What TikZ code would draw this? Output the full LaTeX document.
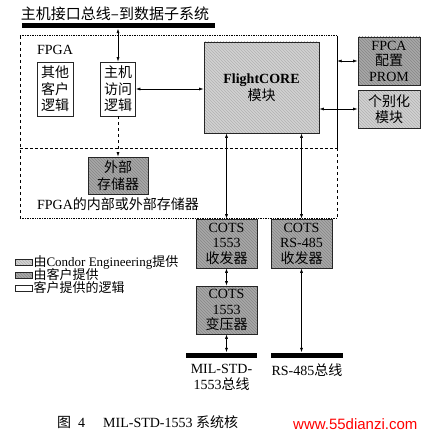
\documentclass[tikz,border=0pt]{standalone}
\usepackage{fontspec}
\setmainfont{Liberation Serif}
\newfontfamily\zhfont{Noto Sans CJK SC}
\newfontfamily\wmfont{Liberation Sans}
\newcommand{\zh}[1]{{\zhfont #1}}
\usetikzlibrary{arrows.meta,positioning,patterns}
\tikzset{
  box/.style={draw=black!85,line width=0.7pt,align=center,inner sep=1pt,font=\fontsize{14}{16.5}\selectfont},
  condor/.style={box,preaction={fill=gray!35},pattern=north west lines,pattern color=gray!60},
  client/.style={box,preaction={fill=gray!68},pattern=north west lines,pattern color=gray!95},
  link/.style={<->,line width=0.6pt},
  busbar/.style={fill=black,draw=none,minimum height=5pt,inner sep=0pt},
  label/.style={align=center,inner sep=0pt,font=\fontsize{14}{16}\selectfont},
  legend/.style={anchor=west,inner sep=0pt,font=\fontsize{13}{14}\selectfont},
  >={Latex[length=4.5pt,width=3pt]}
}

\begin{document}
\begin{tikzpicture}[x=1pt,y=-1pt]
\useasboundingbox (0,0) rectangle (427,436);
% host bus
\node (hosttitle) [label,font=\fontsize{15}{16}\selectfont] at (115,14) {\zh{主机接口总线–到数据子系统}};
\node (hostbus) [busbar,minimum width=193pt] at (118.5,26) {};
%
% FPGA box and the memory region below it
\node (fpga) [minimum width=317pt,minimum height=112pt,inner sep=0pt] at (178.5,92) {};
\node (memframe) [minimum width=317pt,minimum height=182pt,inner sep=0pt] at (178.5,127) {};
\draw[densely dotted,line width=0.7pt] (fpga.north west) -- (fpga.north east);
\draw[line width=0.7pt] (fpga.north east) -- (fpga.south east);
\draw[densely dashed,line width=0.6pt] (fpga.south west) -- (fpga.south east);
\draw[dashed,line width=0.6pt] (fpga.north west) -- (memframe.south west);
\draw[dashed,line width=0.6pt] (fpga.south east) -- (memframe.south east);
\draw[densely dotted,line width=0.7pt] (memframe.south west) -- (memframe.south east);
\node (fpgalabel) [label] at (55,50) {FPGA};
%
\node (other) [box,minimum width=36pt,minimum height=54pt] at (55,89) {\zh{其他}\\\zh{客户}\\\zh{逻辑}};
\node (hostlogic) [box,minimum width=35pt,minimum height=54pt] at (118,89) {\zh{主机}\\\zh{访问}\\\zh{逻辑}};
\node (core) [condor,minimum width=115pt,minimum height=91pt] at (261.5,87.5) {\textbf{FlightCORE}\\\zh{模块}};
\node (prom) [client,minimum width=62pt,minimum height=48pt] at (389,61) {FPCA\\[-1pt]\zh{配置}\\[-1pt]PROM};
\node (indiv) [condor,minimum width=62pt,minimum height=38pt] at (389,109) {\zh{个别化}\\\zh{模块}};
\node (extmem) [client,minimum width=60pt,minimum height=37pt] at (118,175.5) {\zh{外部}\\\zh{存储器}};
\node (memlabel) [label] at (118,204) {FPGA\zh{的内部或外部存储器}};
%
\node (xcvr1553) [client,minimum width=61pt,minimum height=49pt] at (226.5,243.5) {COTS\\[-1pt]1553\\[-1pt]\zh{收发器}};
\node (xcvr485) [client,minimum width=61pt,minimum height=49pt] at (301.5,243.5) {COTS\\[-1pt]RS-485\\[-1pt]\zh{收发器}};
\node (xfmr) [client,minimum width=61pt,minimum height=48pt] at (226.5,310) {COTS\\[-1pt]1553\\[-1pt]\zh{变压器}};
\node (bus1553) [busbar,minimum width=71pt] at (221.5,355) {};
\node (bus485) [busbar,minimum width=72pt] at (307,355) {};
\node (lab1553) [label,below=6pt of bus1553] {MIL-STD-\\1553\zh{总线}};
\node (lab485) [label,below=6pt of bus485] {RS-485\zh{总线}};
%
\path[link] (hostbus.south -| hostlogic) edge (hostlogic.north);
\path[->,dashed,line width=0.6pt] (hostlogic.south) edge (extmem.north);
\path[link] (hostlogic.east) edge (core.west |- hostlogic.east);
\path[link] (fpga.east |- prom.west) edge (prom.west);
\path[link] (core.east |- indiv.west) edge (indiv.west);
\path[link] (core.south -| xcvr1553) edge (xcvr1553.north);
\path[link] (core.south -| xcvr485) edge (xcvr485.north);
\path[link] (xcvr1553.south) edge (xfmr.north);
\path[link] (xfmr.south) edge (xfmr.south |- bus1553.north);
\path[link] (xcvr485.south) edge (xcvr485.south |- bus485.north);
%
% legend
\node (legcondor) [condor,minimum width=17pt,minimum height=6pt,inner sep=0pt] at (23.5,262) {};
\node (legclient) [client,minimum width=17pt,minimum height=6pt,inner sep=0pt] at (23.5,275) {};
\node (leglogic) [box,minimum width=17pt,minimum height=6pt,inner sep=0pt] at (23.5,288) {};
\node (legtxt1) [legend,right=1pt of legcondor] {\zh{由}Condor Engineering\zh{提供}};
\node (legtxt2) [legend,right=1pt of legclient] {\zh{由客户提供}};
\node (legtxt3) [legend,right=1pt of leglogic] {\zh{客户提供的逻辑}};
%
% caption
\node (capnum) [label] at (71,422) {\zh{图}\enspace 4};
\node (captext) [label,anchor=west] at (103,422) {MIL-STD-1553 \zh{系统核}};
\node (watermark) [anchor=west,inner sep=0pt,text=red,font=\fontsize{15}{15}\selectfont\wmfont] at (293,424) {www.55dianzi.com};
\end{tikzpicture}
\end{document}
